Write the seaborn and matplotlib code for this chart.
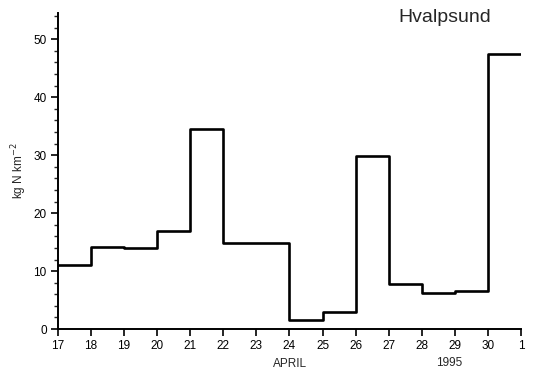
import matplotlib
matplotlib.use("Agg")
import matplotlib.pyplot as plt
from matplotlib.ticker import MultipleLocator, FixedLocator
import seaborn as sns
import pandas as pd

# Daily nitrogen deposition, 17 April - 1 May 1995
day_edges = [17, 18, 19, 20, 21, 22, 23, 24, 25, 26, 27, 28, 29, 30, 31]
deposition = [11.0, 14.2, 14.0, 17.0, 34.5, 14.8, 14.8, 1.5, 3.0, 29.8, 7.8, 6.3, 6.5, 47.5]
tick_labels = ["17", "18", "19", "20", "21", "22", "23", "24", "25", "26",
               "27", "28", "29", "30", "1"]

sns.set_style("ticks")
plt.rcParams["font.family"] = ["Liberation Sans", "DejaVu Sans"]

df = pd.DataFrame({"day": day_edges, "dep": deposition + [deposition[-1]]})

fig = plt.figure(figsize=(5.35, 3.84), dpi=100)
ax = fig.add_axes([0.108, 0.143, 0.866, 0.823])

sns.lineplot(data=df, x="day", y="dep", drawstyle="steps-post",
             color="black", linewidth=1.9, ax=ax)

ax.set_xlim(17, 31)
ax.set_ylim(0, 54.5)
ax.xaxis.set_major_locator(FixedLocator(day_edges))
ax.set_xticklabels(tick_labels)
ax.yaxis.set_major_locator(MultipleLocator(10))
ax.yaxis.set_minor_locator(MultipleLocator(2))

for side in ("top", "right"):
    ax.spines[side].set_visible(False)
for side in ("left", "bottom"):
    ax.spines[side].set_linewidth(1.4)
    ax.spines[side].set_color("black")

ax.tick_params(axis="both", which="major", direction="out", length=5,
               width=1.2, labelsize=8.5, colors="black", pad=3)
ax.tick_params(axis="y", which="minor", direction="out", length=3, width=1.0)

ax.set_xlabel("")
ax.set_ylabel("kg N km$^{-2}$", fontsize=8.5, labelpad=3)

fig.text(398 / 535, 1 - 18 / 384, "Hvalpsund", fontsize=14,
         ha="left", va="center")
fig.text(290 / 535, 1 - 364 / 384, "APRIL", fontsize=8.5, ha="center", va="center")
fig.text(449 / 535, 1 - 363 / 384, "1995", fontsize=8.5, ha="center", va="center")

fig.savefig("out.png", dpi=100)
